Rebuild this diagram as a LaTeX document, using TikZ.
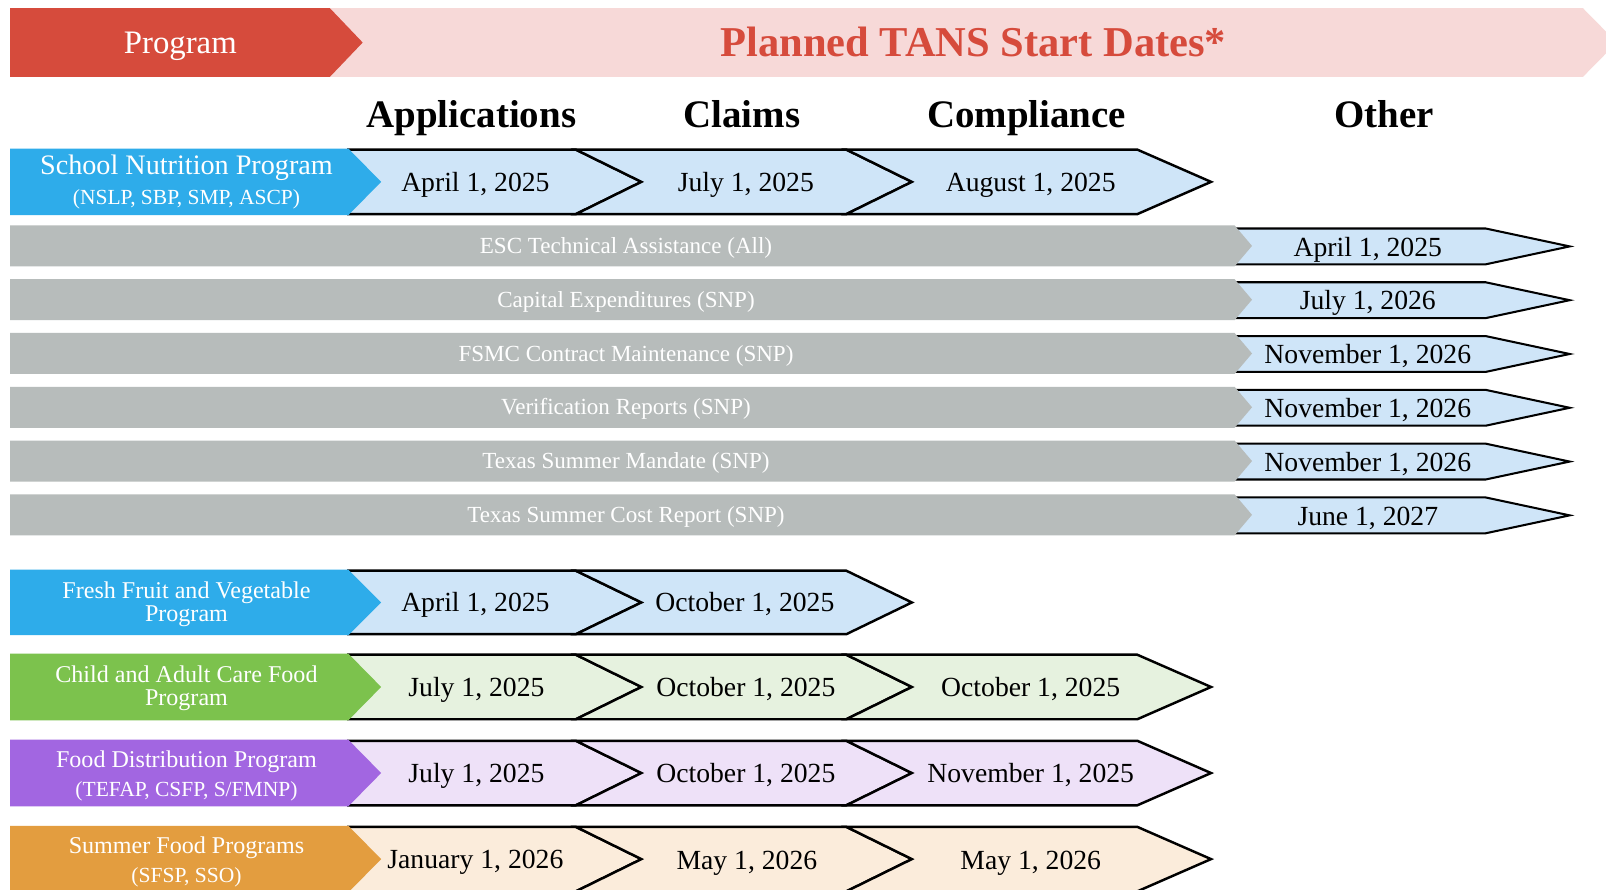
\documentclass[tikz,border=0pt]{standalone}
\usepackage{fontspec}
\setmainfont{Liberation Serif}
\definecolor{hdrred}{HTML}{D64B3C}
\definecolor{hdrpink}{HTML}{F7D9D8}
\definecolor{sblue}{HTML}{2EACEA}
\definecolor{lblue}{HTML}{CFE5F8}
\definecolor{grayc}{HTML}{B7BCBB}
\definecolor{sgreen}{HTML}{7CC24D}
\definecolor{lgreen}{HTML}{E6F2DF}
\definecolor{spurple}{HTML}{A266E1}
\definecolor{lpurple}{HTML}{EEE1F8}
\definecolor{sorange}{HTML}{E39D3F}
\definecolor{lorange}{HTML}{FBECDB}
\newcommand\setfs[2]{\fontsize{#1}{#2}\selectfont}
% first chevron: flat left   #1 x1, #2 x2, #3 tip, #4 top, #5 bottom, #6 fill
\newcommand\chevF[6]{\path[chevline, fill=#6] (#1,#4) -- (#2,#4) -- (#3,{(#4+#5)/2}) -- (#2,#5) -- (#1,#5) -- cycle;}
% notched chevron (notch depth 64)
\newcommand\chevN[6]{\path[chevline, fill=#6] (#1,#4) -- (#2,#4) -- (#3,{(#4+#5)/2}) -- (#2,#5) -- (#1,#5) -- ({#1+64},{(#4+#5)/2}) -- cycle;}
% coloured program box  #1 top  #2 bottom  #3 fill
\newcommand\pbox[3]{\fill[#3] (10,#1) -- (340,#1) -- (372,{(#1+#2)/2}) -- (340,#2) -- (10,#2) -- cycle;}
% gray row with pointer  #1 top
\newcommand\grow[1]{%
  \path[chevline, line width=2pt, fill=lblue] (1205,#1+3) -- (1450,#1+3) -- (1532,#1+20.5) -- (1450,#1+38) -- (1205,#1+38) -- cycle;
  \fill[grayc] (10,#1) -- (1205,#1) -- (1222,#1+20) -- (1205,#1+40) -- (10,#1+40) -- cycle;}
\tikzset{
  chevline/.style={draw=black, line width=2.4pt, line join=miter},
  datetxt/.style={font=\setfs{27}{31}, text=black, inner sep=0pt, anchor=base},
  colhead/.style={font=\bfseries\setfs{38}{43}, text=black, inner sep=0pt, anchor=base},
  graytxt/.style={font=\setfs{22.5}{26}, text=white, inner sep=0pt, anchor=base},
  lbl/.style={font=\setfs{23.5}{27}, text=white, inner sep=0pt, anchor=base},
  lblbig/.style={font=\setfs{27.5}{31}, text=white, inner sep=0pt, anchor=base},
  lblsub/.style={font=\setfs{21}{25}, text=white, inner sep=0pt, anchor=base},
}
\begin{document}
\begin{tikzpicture}[x=1pt,y=-1pt]
\useasboundingbox (0,0) rectangle (1567.5,867.7);
\fill[white] (0,0) rectangle (1567.5,867.7);
% header
\fill[hdrpink] (322,8) -- (1545,8) -- (1578,41.5) -- (1545,75) -- (322,75) -- cycle;
\fill[hdrred] (10,8) -- (322,8) -- (354,41.5) -- (322,75) -- (10,75) -- cycle;
\node[font=\setfs{32}{36}, text=white, inner sep=0pt, anchor=base] (hprog) at (176,52) {Program};
\node[font=\bfseries\setfs{41.5}{46}, text=hdrred, inner sep=0pt, anchor=base] (htitle) at (950,55) {Planned TANS Start Dates*};
% column headers
\node[colhead] (cApp) at (460,124) {Applications};
\node[colhead] (cCla) at (724,124) {Claims};
\node[colhead] (cCom) at (1002,124) {Compliance};
\node[colhead] (cOth) at (1351,124) {Other};
% SNP row
\chevF{340}{562}{626}{146}{209}{lblue}
\chevN{562}{826}{890}{146}{209}{lblue}
\chevN{826}{1110}{1182}{146}{209}{lblue}
\pbox{145}{210}{sblue}
\node[lblbig] (snp1) at (182,170) {School Nutrition Program};
\node[lblsub] (snp2) at (182,200) {(NSLP, SBP, SMP, ASCP)};
\node[datetxt] (snpA) at (464,186.5) {April 1, 2025};
\node[datetxt] (snpB) at (728,186.5) {July 1, 2025};
\node[datetxt] (snpC) at (1006,186.5) {August 1, 2025};
% gray rows
\grow{220}
\node[graytxt] (g1) at (611,247.5) {ESC Technical Assistance (All)};
\node[datetxt] (g1d) at (1335,250) {April 1, 2025};
\grow{272.5}
\node[graytxt] (g2) at (611,300) {Capital Expenditures (SNP)};
\node[datetxt] (g2d) at (1335,302.5) {July 1, 2026};
\grow{325}
\node[graytxt] (g3) at (611,352.5) {FSMC Contract Maintenance (SNP)};
\node[datetxt] (g3d) at (1335,355) {November 1, 2026};
\grow{377.5}
\node[graytxt] (g4) at (611,405) {Verification Reports (SNP)};
\node[datetxt] (g4d) at (1335,407.5) {November 1, 2026};
\grow{430}
\node[graytxt] (g5) at (611,457.5) {Texas Summer Mandate (SNP)};
\node[datetxt] (g5d) at (1335,460) {November 1, 2026};
\grow{482.5}
\node[graytxt] (g6) at (611,510) {Texas Summer Cost Report (SNP)};
\node[datetxt] (g6d) at (1335,512.5) {June 1, 2027};
% FFVP
\chevF{340}{562}{626}{557}{619}{lblue}
\chevN{562}{826}{890}{557}{619}{lblue}
\pbox{556}{620}{sblue}
\node[lbl] (ff1) at (182,584) {Fresh Fruit and Vegetable};
\node[lbl] (ff2) at (182,607) {Program};
\node[datetxt] (ffA) at (464,597) {April 1, 2025};
\node[datetxt] (ffB) at (727,597) {October 1, 2025};
% CACFP
\chevF{340}{562}{626}{639}{702}{lgreen}
\chevN{562}{826}{890}{639}{702}{lgreen}
\chevN{826}{1110}{1182}{639}{702}{lgreen}
\pbox{638}{703}{sgreen}
\node[lbl] (ca1) at (182,666) {Child and Adult Care Food};
\node[lbl] (ca2) at (182,689) {Program};
\node[datetxt] (caA) at (465,679.5) {July 1, 2025};
\node[datetxt] (caB) at (728,679.5) {October 1, 2025};
\node[datetxt] (caC) at (1006,679.5) {October 1, 2025};
% FDP
\chevF{340}{562}{626}{723}{786}{lpurple}
\chevN{562}{826}{890}{723}{786}{lpurple}
\chevN{826}{1110}{1182}{723}{786}{lpurple}
\pbox{722}{787}{spurple}
\node[lbl] (fd1) at (182,749) {Food Distribution Program};
\node[lblsub] (fd2) at (182,777) {(TEFAP, CSFP, S/FMNP)};
\node[datetxt] (fdA) at (465,763.5) {July 1, 2025};
\node[datetxt] (fdB) at (728,763.5) {October 1, 2025};
\node[datetxt] (fdC) at (1006,763.5) {November 1, 2025};
% SFP
\chevF{340}{562}{626}{807}{870}{lorange}
\chevN{562}{826}{890}{807}{870}{lorange}
\chevN{826}{1110}{1182}{807}{870}{lorange}
\pbox{806}{871}{sorange}
\node[lbl] (sf1) at (182,833) {Summer Food Programs};
\node[lblsub] (sf2) at (182,861) {(SFSP, SSO)};
\node[datetxt] (sfA) at (464,848) {January 1, 2026};
\node[datetxt] (sfB) at (729,848.5) {May 1, 2026};
\node[datetxt] (sfC) at (1006,848.5) {May 1, 2026};
\end{tikzpicture}
\end{document}
